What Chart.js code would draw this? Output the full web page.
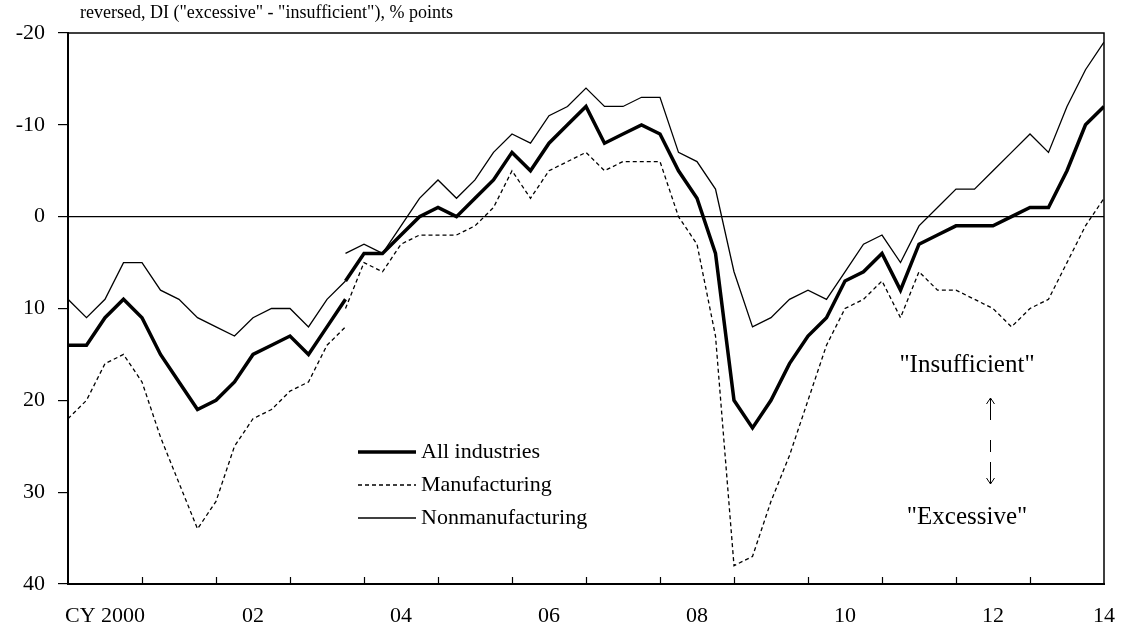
<!DOCTYPE html>
<html lang="en">

<head>
    <meta charset="UTF-8">
    <title>Tankan DI</title>
    <script src="https://cdn.jsdelivr.net/npm/chart.js@4.4.1/dist/chart.umd.min.js"></script>
    <style>
        body { margin: 0; background: #fff; }
        #grafico { display: block; }
    </style>
</head>

<body>
    <canvas id="grafico" width="1127" height="632"></canvas>
</body>

</html>

<script>
    // quarters from CY2000 Q1 (index 0) to 2014 Q1 (index 56); series break at index 15
    const inicioNovo = 15
    const labelsAnos = ['CY 2000', '02', '04', '06', '08', '10', '12', '14']
    const posicoesAnos = [2, 10, 18, 26, 34, 42, 50, 56]

    const todosAntigo = [14, 14, 11, 9, 11, 15, 18, 21, 20, 18, 15, 14, 13, 15, 12, 9]
    const todosNovo = [7, 4, 4, 2, 0, -1, 0, -2, -4, -7, -5, -8, -10, -12, -8, -9, -10, -9, -5, -2, 4,
        20, 23, 20, 16, 13, 11, 7, 6, 4, 8, 3, 2, 1, 1, 1, 0, -1, -1, -5, -10, -12]

    const manufAntigo = [22, 20, 16, 15, 18, 24, 29, 34, 31, 25, 22, 21, 19, 18, 14, 12]
    const manufNovo = [10, 5, 6, 3, 2, 2, 2, 1, -1, -5, -2, -5, -6, -7, -5, -6, -6, -6, 0, 3, 13,
        38, 37, 31, 26, 20, 14, 10, 9, 7, 11, 6, 8, 8, 9, 10, 12, 10, 9, 5, 1, -2]

    const naoManufAntigo = [9, 11, 9, 5, 5, 8, 9, 11, 12, 13, 11, 10, 10, 12, 9, 7]
    const naoManufNovo = [4, 3, 4, 1, -2, -4, -2, -4, -7, -9, -8, -11, -12, -14, -12, -12, -13, -13, -7, -6, -3,
        6, 12, 11, 9, 8, 9, 6, 3, 2, 5, 1, -1, -3, -3, -5, -7, -9, -7, -12, -16, -19]

    const fonte = '"Liberation Serif", "Times New Roman", serif'

    function pontos(valores, inicio) {
        return valores.map(function (v, i) { return { x: inicio + i, y: v } })
    }

    const estiloTodos = { borderColor: '#000', borderWidth: 3.5, pointRadius: 0, tension: 0 }
    const estiloManuf = { borderColor: '#000', borderWidth: 1.3, borderDash: [4, 3], pointRadius: 0, tension: 0 }
    const estiloNaoManuf = { borderColor: '#000', borderWidth: 1.3, pointRadius: 0, tension: 0 }

    // title, frame, inner tick marks, legend and the arrows on the right
    const extras = {
        id: 'extras',
        afterDraw(chart) {
            const ctx = chart.ctx
            const area = chart.chartArea
            const x = chart.scales.x
            ctx.save()
            ctx.strokeStyle = '#000'
            ctx.fillStyle = '#000'

            ctx.lineWidth = 1.5
            ctx.beginPath()
            ctx.moveTo(area.left, area.top)
            ctx.lineTo(area.right, area.top)
            ctx.lineTo(area.right, area.bottom)
            ctx.stroke()

            ctx.lineWidth = 1.2
            for (let i = 4; i < 56; i += 4) {
                const px = Math.round(x.getPixelForValue(i)) + 0.5
                ctx.beginPath()
                ctx.moveTo(px, area.bottom)
                ctx.lineTo(px, area.bottom - 7)
                ctx.stroke()
            }

            ctx.font = '18px ' + fonte
            ctx.textBaseline = 'middle'
            ctx.textAlign = 'left'
            ctx.fillText('reversed, DI ("excessive" - "insufficient"), % points', 80, 13)

            // legend
            const itens = [
                ['All industries', 3.5, []],
                ['Manufacturing', 1.3, [4, 3]],
                ['Nonmanufacturing', 1.3, []]
            ]
            ctx.font = '22px ' + fonte
            itens.forEach(function (item, k) {
                const ly = 452 + k * 33
                ctx.lineWidth = item[1]
                ctx.setLineDash(item[2])
                ctx.beginPath()
                ctx.moveTo(358, ly)
                ctx.lineTo(416, ly)
                ctx.stroke()
                ctx.setLineDash([])
                ctx.fillText(item[0], 421, ly)
            })

            ctx.font = '25px ' + fonte
            ctx.textAlign = 'center'
            ctx.fillText('"Insufficient"', 967, 365)
            ctx.fillText('"Excessive"', 967, 517)

            ctx.lineWidth = 1
            ctx.beginPath()
            ctx.moveTo(990.5, 420); ctx.lineTo(990.5, 398)
            ctx.moveTo(986.5, 404); ctx.lineTo(990.5, 398); ctx.lineTo(994.5, 404)
            ctx.moveTo(990.5, 440); ctx.lineTo(990.5, 452)
            ctx.moveTo(990.5, 462); ctx.lineTo(990.5, 484)
            ctx.moveTo(986.5, 478); ctx.lineTo(990.5, 484); ctx.lineTo(994.5, 478)
            ctx.stroke()
            ctx.restore()
        }
    }

    const config = {
        type: 'line',
        data: {
            datasets: [
                Object.assign({ label: 'All industries', data: pontos(todosAntigo, 0) }, estiloTodos),
                Object.assign({ label: 'All industries (new)', data: pontos(todosNovo, inicioNovo) }, estiloTodos),
                Object.assign({ label: 'Manufacturing', data: pontos(manufAntigo, 0) }, estiloManuf),
                Object.assign({ label: 'Manufacturing (new)', data: pontos(manufNovo, inicioNovo) }, estiloManuf),
                Object.assign({ label: 'Nonmanufacturing', data: pontos(naoManufAntigo, 0) }, estiloNaoManuf),
                Object.assign({ label: 'Nonmanufacturing (new)', data: pontos(naoManufNovo, inicioNovo) }, estiloNaoManuf)
            ]
        },
        options: {
            responsive: false,
            animation: false,
            layout: { padding: { left: 0, right: 23, top: 33, bottom: 0 } },
            plugins: {
                legend: { display: false },
                tooltip: { enabled: false }
            },
            scales: {
                x: {
                    type: 'linear',
                    min: 0,
                    max: 56,
                    grid: { display: false },
                    border: { display: true, color: '#000', width: 2 },
                    afterBuildTicks: function (scale) {
                        scale.ticks = posicoesAnos.map(function (v) { return { value: v } })
                    },
                    afterFit: function (scale) { scale.height = 48 },
                    ticks: {
                        autoSkip: false,
                        maxRotation: 0,
                        padding: 11,
                        color: '#000',
                        font: { family: fonte, size: 22 },
                        callback: function (valor) {
                            return labelsAnos[posicoesAnos.indexOf(valor)]
                        }
                    }
                },
                y: {
                    reverse: true,
                    min: -20,
                    max: 40,
                    afterFit: function (scale) { scale.width = 68 },
                    grid: {
                        color: function (c) { return c.tick && c.tick.value === 0 ? '#000' : 'rgba(0,0,0,0)' },
                        tickColor: '#000',
                        tickLength: 10,
                        lineWidth: 1.2
                    },
                    border: { display: true, color: '#000', width: 2 },
                    ticks: {
                        stepSize: 10,
                        padding: 13,
                        color: '#000',
                        font: { family: fonte, size: 22 }
                    }
                }
            }
        },
        plugins: [extras]
    }

    let myChart = new Chart(document.getElementById('grafico'), config)
</script>
